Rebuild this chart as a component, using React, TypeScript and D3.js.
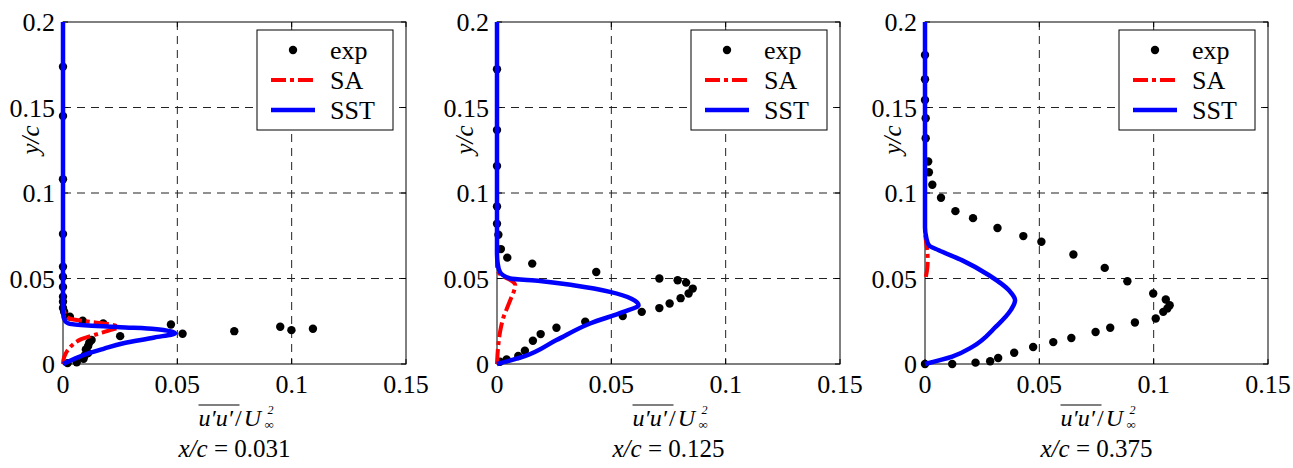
import React from 'react'
import * as d3 from 'd3'

// experimental points [u'u'/U^2, y/c]
const exp031: [number, number][] = [
  [0, 0.1738], [0, 0.145], [0, 0.108], [0, 0.076], [0, 0.0569], [0, 0.051], [0, 0.045],
  [0, 0.0394], [0, 0.0364], [0, 0.0327], [0.0005, 0.0306], [0.003, 0.0277], [0.0086, 0.0253],
  [0.0176, 0.0237], [0.025, 0.0163], [0.0472, 0.0231], [0.0523, 0.0177], [0.0749, 0.0192],
  [0.095, 0.0218], [0.0999, 0.0198], [0.1093, 0.0206], [0.0125, 0.014], [0.0115, 0.0125],
  [0.011, 0.0105], [0.01, 0.0085], [0.011, 0.0064], [0.0095, 0.005], [0.009, 0.003],
  [0.006, 0.001], [0.002, 0.0005],
]
const exp125: [number, number][] = [
  [0, 0.1724], [0, 0.1368], [0, 0.1158], [0, 0.0921], [0, 0.082], [0.0006, 0.0756],
  [0.0017, 0.0672], [0.0045, 0.0622], [0.0154, 0.0587], [0.0434, 0.0538], [0.071, 0.05],
  [0.079, 0.049], [0.0827, 0.0476], [0.0856, 0.0441], [0.0838, 0.0412], [0.0803, 0.0385],
  [0.0755, 0.0354], [0.071, 0.0327], [0.0633, 0.0305], [0.055, 0.028], [0.0386, 0.0247],
  [0.026, 0.0212], [0.0191, 0.0175], [0.0157, 0.0136], [0.0122, 0.0078], [0.0093, 0.0047],
  [0.0042, 0.0027], [0.0013, 0.0013],
]
const exp375: [number, number][] = [
  [0, 0.1807], [0, 0.1665], [0, 0.1544], [0.0003, 0.1437], [0.0003, 0.132], [0.0014, 0.1184],
  [0.0017, 0.1121], [0.0032, 0.1048], [0.007, 0.0972], [0.0133, 0.0894], [0.021, 0.0853],
  [0.0317, 0.0795], [0.043, 0.0748], [0.0509, 0.0715], [0.0649, 0.064], [0.0786, 0.0562],
  [0.0885, 0.0484], [0.0998, 0.0412], [0.1053, 0.0377], [0.107, 0.0344], [0.106, 0.0325],
  [0.1042, 0.0305], [0.1009, 0.0266], [0.0918, 0.0243], [0.081, 0.0212], [0.0746, 0.0187],
  [0.064, 0.0152], [0.0561, 0.0128], [0.0473, 0.0099], [0.039, 0.0066], [0.032, 0.0035],
  [0.0285, 0.0016], [0.0221, 0.0008], [0.0119, 0], [0, 0],
]

// SA model profiles
const sa031: [number, number][] = [
  [0, 0], [0.0005, 0.004], [0.002, 0.008], [0.004, 0.011], [0.008, 0.0145], [0.015, 0.0175],
  [0.02, 0.0195], [0.024, 0.0215], [0.019, 0.0235], [0.01, 0.025], [0.003, 0.0265],
  [0.001, 0.029], [0, 0.035], [0, 0.2],
]
const sa125: [number, number][] = [
  [0, 0], [0.0005, 0.01], [0.0015, 0.02], [0.003, 0.028], [0.0045, 0.033], [0.006, 0.038],
  [0.0075, 0.043], [0.008, 0.046], [0.006, 0.049], [0.003, 0.051], [0.001, 0.053], [0, 0.056],
  [0, 0.2],
]
// only the visible part near the wall
const sa375: [number, number][] = [
  [0.0004, 0.051], [0.001, 0.056], [0.0012, 0.061], [0.001, 0.066], [0.0004, 0.072], [0, 0.078], [0, 0.2],
]

// SST model profiles
const sst031: [number, number][] = [
  [0, 0], [0.005, 0.003], [0.011, 0.0062], [0.018, 0.009], [0.026, 0.012], [0.04, 0.0155],
  [0.049, 0.018], [0.04, 0.0205], [0.025, 0.0215], [0.011, 0.0225], [0.003, 0.0235],
  [0.001, 0.025], [0, 0.03], [0, 0.2],
]
const sst125: [number, number][] = [
  [0, 0], [0.0115, 0.0043], [0.026, 0.014], [0.0407, 0.0237], [0.0553, 0.0305],
  [0.0619, 0.0344], [0.059, 0.038], [0.0494, 0.0422], [0.0334, 0.046], [0.0188, 0.0486],
  [0.0057, 0.05], [0.0013, 0.0538], [0.0003, 0.0587], [0, 0.065], [0, 0.2],
]
const sst375: [number, number][] = [
  [0, 0], [0.0119, 0.0043], [0.0207, 0.01], [0.031, 0.0218], [0.0375, 0.0315],
  [0.0394, 0.0373], [0.0367, 0.0431], [0.028, 0.0519], [0.0163, 0.0606], [0.006, 0.0665],
  [0.0017, 0.0694], [0.0005, 0.0742], [0, 0.08], [0, 0.2],
]

const xTicks = [0, 0.05, 0.1, 0.15]
const yTicks = [0, 0.05, 0.1, 0.15, 0.2]
const stations = ['0.031', '0.125', '0.375']
const legendNames = ['exp', 'SA', 'SST']

const FONT = '"Liberation Serif", "Times New Roman", serif'
const SA_DASH = '15 4 4 4'

function Panel({ left, exp, sa, sst, station }: any) {
  const w = 343
  const top = 22
  const bottom = 364
  const x = d3.scaleLinear().domain([0, 0.15]).range([left, left + w])
  const y = d3.scaleLinear().domain([0, 0.2]).range([bottom, top])
  const line = d3.line<[number, number]>()
    .x(d => x(d[0]))
    .y(d => y(d[1]))
    .curve(d3.curveMonotoneY)
  const cx = left + w / 2
  const lgR = left + w - 13
  const lgL = lgR - 136
  const lgT = top + 8
  const rows = [lgT + 20, lgT + 50, lgT + 80]

  return (
    <g fontFamily={FONT}>
      {/* grid */}
      {xTicks.slice(1, -1).map(t => (
        <line key={'gx' + t} x1={x(t)} x2={x(t)} y1={top} y2={bottom}
          stroke="#222" strokeWidth={1} strokeDasharray="8 6" />
      ))}
      {yTicks.slice(1, -1).map(t => (
        <line key={'gy' + t} x1={left} x2={left + w} y1={y(t)} y2={y(t)}
          stroke="#222" strokeWidth={1} strokeDasharray="8 6" />
      ))}
      {/* box */}
      <rect x={left} y={top} width={w} height={bottom - top} fill="none" stroke="#000" strokeWidth={1} />
      {/* ticks */}
      {xTicks.map(t => (
        <g key={'tx' + t}>
          <line x1={x(t)} x2={x(t)} y1={bottom} y2={bottom - 5} stroke="#000" />
          <line x1={x(t)} x2={x(t)} y1={top} y2={top + 5} stroke="#000" />
          <text x={x(t)} y={bottom + 29} textAnchor="middle" fontSize={26}>{t}</text>
        </g>
      ))}
      {yTicks.map(t => (
        <g key={'ty' + t}>
          <line x1={left} x2={left + 5} y1={y(t)} y2={y(t)} stroke="#000" />
          <line x1={left + w} x2={left + w - 5} y1={y(t)} y2={y(t)} stroke="#000" />
          <text x={left - 8} y={y(t)} dy="0.35em" textAnchor="end" fontSize={26}>{t}</text>
        </g>
      ))}
      {/* data */}
      {exp.map((d: [number, number], i: number) => (
        <circle key={i} cx={x(d[0])} cy={y(d[1])} r={4.2} fill="#000" />
      ))}
      <path d={line(sa) || ''} fill="none" stroke="#ff0000" strokeWidth={4} strokeDasharray={SA_DASH} />
      <path d={line(sst) || ''} fill="none" stroke="#0000ff" strokeWidth={4.5} />
      {/* legend */}
      <rect x={lgL} y={lgT} width={lgR - lgL} height={100} fill="#fff" stroke="#000" strokeWidth={1} />
      <circle cx={lgL + 36} cy={rows[0]} r={4.2} fill="#000" />
      <line x1={lgL + 14} x2={lgL + 58} y1={rows[1]} y2={rows[1]} stroke="#ff0000" strokeWidth={4} strokeDasharray={SA_DASH} />
      <line x1={lgL + 14} x2={lgL + 58} y1={rows[2]} y2={rows[2]} stroke="#0000ff" strokeWidth={4.5} />
      {legendNames.map((n, i) => (
        <text key={n} x={lgL + 73} y={rows[i]} dy="0.33em" fontSize={26}>{n}</text>
      ))}
      {/* axis labels */}
      <text transform={`translate(${left - 24},140) rotate(-90)`} textAnchor="middle"
        fontSize={25} fontStyle="italic">y/c</text>
      <line x1={cx - 36} x2={cx + 5} y1={405} y2={405} stroke="#000" strokeWidth={1} />
      <text x={cx - 36} y={426} fontSize={24}>
        <tspan fontStyle="italic">u′u′</tspan>
        <tspan dx={2}>/</tspan>
        <tspan dx={2} fontStyle="italic">U</tspan>
      </text>
      <text x={cx + 33} y={414} fontSize={12} fontStyle="italic">2</text>
      <text x={cx + 30} y={429} fontSize={13}>∞</text>
      <text x={cx} y={457} textAnchor="middle" fontSize={25}>
        <tspan fontStyle="italic">x/c</tspan>{' = ' + station}
      </text>
    </g>
  )
}

export default function App() {
  const lefts = [63, 497, 925]
  const exps = [exp031, exp125, exp375]
  const sas = [sa031, sa125, sa375]
  const ssts = [sst031, sst125, sst375]
  return (
    <svg width={1293} height={468} style={{ position: 'absolute', left: 0, top: 0, background: '#fff' }}>
      <rect width={1293} height={468} fill="#fff" />
      {lefts.map((l, i) => (
        <Panel key={i} left={l} exp={exps[i]} sa={sas[i]} sst={ssts[i]} station={stations[i]} />
      ))}
    </svg>
  )
}
